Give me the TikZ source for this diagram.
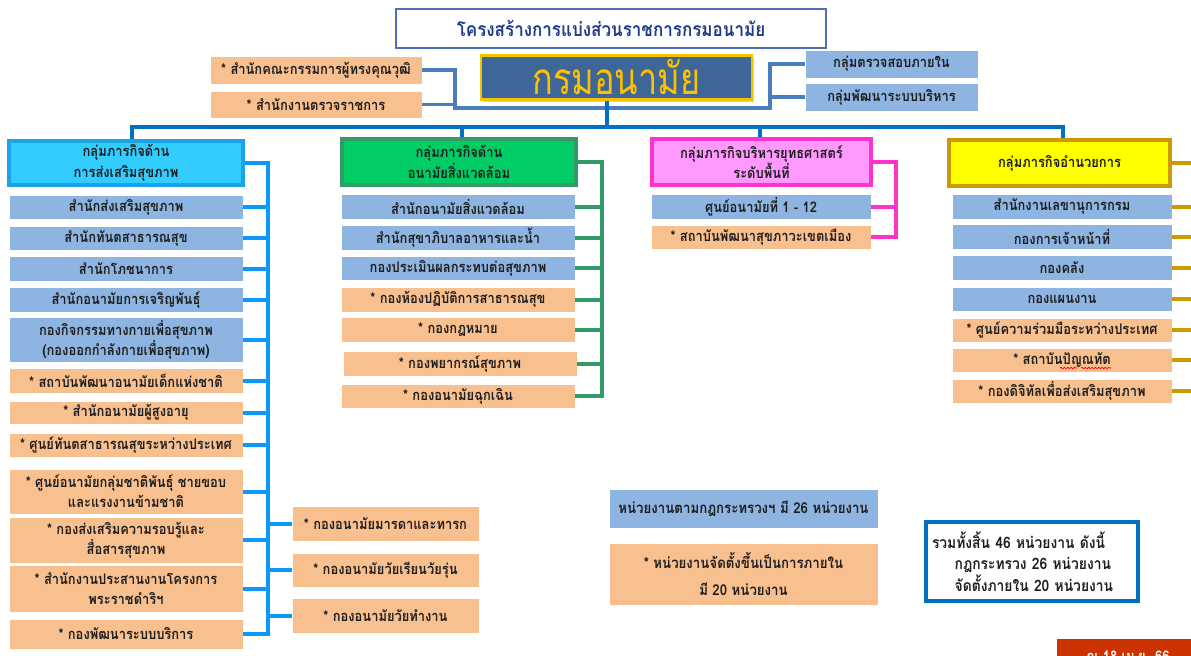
\documentclass[tikz,border=0pt]{standalone}
\usepackage{fontspec}
\newfontfamily\thaifont[Script=Thai,FakeStretch=0.88]{Loma}
\newfontfamily\thaibig[Script=Thai,FakeStretch=0.78]{Loma}
\usetikzlibrary{shadows,decorations.pathmorphing}
\definecolor{peach}{HTML}{F9C08F}
\definecolor{lblue}{HTML}{8EB4E2}
\definecolor{txt}{HTML}{1E1E1E}
\definecolor{cyanf}{HTML}{33CCFF}
\definecolor{cyand}{HTML}{1AA3E8}
\definecolor{lline}{HTML}{0A99FA}
\definecolor{greenf}{HTML}{00CC66}
\definecolor{greend}{HTML}{339966}
\definecolor{pinkf}{HTML}{FF99FF}
\definecolor{pinkd}{HTML}{FF33CC}
\definecolor{yelf}{HTML}{FFFF00}
\definecolor{yeld}{HTML}{CC9900}
\definecolor{busc}{HTML}{0070C0}
\definecolor{topc}{HTML}{4A7EBB}
\definecolor{mainf}{HTML}{3E6696}
\definecolor{maind}{HTML}{F2C400}
\definecolor{maint}{HTML}{FFC000}
\definecolor{titlet}{HTML}{1F3A8A}
\definecolor{titled}{HTML}{4F6FB8}
\definecolor{redbox}{HTML}{CC3300}
\begin{document}
\begin{tikzpicture}[x=0.75pt,y=-0.75pt,
  box/.style={rectangle, inner sep=1pt, align=center, text=txt,
    font=\thaifont\bfseries\fontsize{11}{15}\selectfont, draw=white, line width=0.6pt},
  pbox/.style={box, fill=peach},
  bbox/.style={box, fill=lblue},
  sz/.style 2 args={minimum width=#1*0.75pt, minimum height=#2*0.75pt},
  hdr/.style={box, line width=2.4pt, font=\thaifont\bfseries\fontsize{11}{15.5}\selectfont},
  lconn/.style={draw=lline, line width=3pt},
  gconn/.style={draw=greend, line width=3pt},
  pconn/.style={draw=pinkd, line width=3pt},
  yconn/.style={draw=yeld, line width=3pt},
  tconn/.style={draw=topc, line width=2.4pt},
  bconn/.style={draw=busc, line width=2.6pt}
]
\useasboundingbox (0,0) rectangle (1191,656);
\clip (0,0) rectangle (1191,656);
\fill[white] (0,0) rectangle (1191,656);

% title
\node[rectangle, draw=titled, line width=0.8pt, fill=white, sz={430}{39},
  text=titlet, font=\thaifont\bfseries\fontsize{14.5}{17}\selectfont] (title) at (611,28.5)
  {โครงสร้างการแบ่งส่วนราชการกรมอนามัย};

% main
\node[rectangle, fill=mainf, draw=maind, line width=2.2pt, sz={271}{43},
  drop shadow={opacity=0.35, shadow xshift=1.5pt, shadow yshift=-1.5pt},
  text=maint, font=\thaibig\fontsize{33}{34}\selectfont] (main) at (616.5,77.5) {กรมอนามัย};

\node[pbox, sz={212}{28}] (tl1) at (316,70) {* สำนักคณะกรรมการผู้ทรงคุณวุฒิ};
\node[pbox, sz={212}{27}] (tl2) at (316,104.5) {* สำนักงานตรวจราชการ};
\node[bbox, sz={173}{28}] (tr1) at (891.5,64) {กลุ่มตรวจสอบภายใน};
\node[bbox, sz={173}{28}] (tr2) at (891.5,97) {กลุ่มพัฒนาระบบบริหาร};

\coordinate (lj) at (455,108);
\coordinate (rj) at (770,108);
\coordinate (mid) at (607,127);
\coordinate (busL) at (132,127);
\coordinate (busR) at (1063,127);
\coordinate (dG) at (462,127);
\coordinate (dP) at (760,127);

% headers
\node[hdr, fill=cyanf, draw=cyand, sz={234}{44}] (h1) at (126,163) {กลุ่มภารกิจด้าน\\การส่งเสริมสุขภาพ};
\node[hdr, fill=greenf, draw=greend, line width=3pt, sz={234}{46}] (h2) at (459,162) {กลุ่มภารกิจด้าน\\อนามัยสิ่งแวดล้อม};
\node[hdr, fill=pinkf, draw=pinkd, sz={219}{46}] (h3) at (761.5,162) {กลุ่มภารกิจบริหารยุทธศาสตร์\\ระดับพื้นที่};
\node[hdr, fill=yelf, draw=yeld, line width=3pt, sz={221}{46}] (h4) at (1059.5,163) {กลุ่มภารกิจอำนวยการ};

% top connectors
\draw[tconn] (tl1.east) -| (lj) -- (rj) |- (tr1.west);
\draw[tconn] (tl2.east) -| (lj);
\draw[tconn] (tr2.west) -| (rj);
\draw[bconn] (mid) -- (mid |- main.south);
\draw[bconn] (busL |- h1.north) -- (busL) -- (busR) -- (busR |- h4.north);
\draw[bconn] (dG) -- (dG |- h2.north);
\draw[bconn] (dP) -- (dP |- h3.north);

% left column
\node[bbox, sz={234}{24}] (l1) at (126,207) {สำนักส่งเสริมสุขภาพ};
\node[bbox, sz={234}{24}] (l2) at (126,238) {สำนักทันตสาธารณสุข};
\node[bbox, sz={234}{25}] (l3) at (126,268.5) {สำนักโภชนาการ};
\node[bbox, sz={234}{25}] (l4) at (126,299.5) {สำนักอนามัยการเจริญพันธุ์};
\node[bbox, sz={234}{45}] (l5) at (126,339.5) {กองกิจกรรมทางกายเพื่อสุขภาพ\\(กองออกกำลังกายเพื่อสุขภาพ)};
\node[pbox, sz={234}{25}] (l6) at (126,380.5) {* สถาบันพัฒนาอนามัยเด็กแห่งชาติ};
\node[pbox, sz={234}{23}] (l7) at (126,412.5) {* สำนักอนามัยผู้สูงอายุ};
\node[pbox, sz={234}{24}] (l8) at (126,445) {* ศูนย์ทันตสาธารณสุขระหว่างประเทศ};
\node[pbox, sz={234}{45}] (l9) at (126,491.5) {* ศูนย์อนามัยกลุ่มชาติพันธุ์ ชายขอบ\\และแรงงานข้ามชาติ};
\node[pbox, sz={234}{46}] (l10) at (126,540) {* กองส่งเสริมความรอบรู้และ\\สื่อสารสุขภาพ};
\node[pbox, sz={234}{47}] (l11) at (126,588.5) {* สำนักงานประสานงานโครงการ\\พระราชดำริฯ};
\node[pbox, sz={234}{30}] (l12) at (126,634) {* กองพัฒนาระบบบริการ};
\node[pbox, sz={187}{35}] (r1) at (385.5,523.5) {* กองอนามัยมารดาและทารก};
\node[pbox, sz={187}{34}] (r2) at (385.5,570) {* กองอนามัยวัยเรียนวัยรุ่น};
\node[pbox, sz={187}{35}] (r3) at (385.5,615.5) {* กองอนามัยวัยทำงาน};
\coordinate (lv) at (268,0);
\draw[lconn] (h1.east) -| (lv |- l12.east) -- (l12.east);
\foreach \n in {l1,l2,l3,l4,l5,l6,l7,l8,l9,l10,l11}
  \draw[lconn] (\n.east) -- (\n.east -| lv);
\foreach \n in {r1,r2,r3}
  \draw[lconn] (\n.west) -- (\n.west -| lv);

% middle column
\node[bbox, sz={234}{25}] (m1) at (458,206.5) {สำนักอนามัยสิ่งแวดล้อม};
\node[bbox, sz={234}{25}] (m2) at (458,237.5) {สำนักสุขาภิบาลอาหารและน้ำ};
\node[bbox, sz={234}{24}] (m3) at (458,268) {กองประเมินผลกระทบต่อสุขภาพ};
\node[pbox, sz={234}{25}] (m4) at (458,299.5) {* กองห้องปฏิบัติการสาธารณสุข};
\node[pbox, sz={234}{25}] (m5) at (458,329.5) {* กองกฎหมาย};
\node[pbox, sz={234}{25}] (m6) at (460,363.5) {* กองพยากรณ์สุขภาพ};
\node[pbox, sz={234}{24}] (m7) at (458,396) {* กองอนามัยฉุกเฉิน};
\coordinate (mv) at (602,0);
\draw[gconn] (h2.east) -| (mv |- m7.east) -- (m7.east);
\foreach \n in {m1,m2,m3,m4,m5,m6}
  \draw[gconn] (\n.east) -- (\n.east -| mv);

% pink column
\node[bbox, sz={220}{25}] (p1) at (761,206.5) {ศูนย์อนามัยที่ 1 - 12};
\node[pbox, sz={220}{24}] (p2) at (761,237) {* สถาบันพัฒนาสุขภาวะเขตเมือง};
\coordinate (pv) at (896,0);
\draw[pconn] (h3.east) -| (pv |- p2.east) -- (p2.east);
\draw[pconn] (p1.east) -- (p1.east -| pv);

% yellow column
\node[bbox, sz={220}{25}] (y1) at (1062,206.5) {สำนักงานเลขานุการกรม};
\node[bbox, sz={220}{25}] (y2) at (1062,236.5) {กองการเจ้าหน้าที่};
\node[bbox, sz={220}{25}] (y3) at (1062,267.5) {กองคลัง};
\node[bbox, sz={220}{24}] (y4) at (1062,299) {กองแผนงาน};
\node[pbox, sz={220}{24}] (y5) at (1062,330) {* ศูนย์ความร่วมมือระหว่างประเทศ};
\node[pbox, sz={220}{24}] (y6) at (1062,360) {* สถาบันปัญณทัต};
\node[pbox, sz={220}{24}] (y7) at (1062,391) {* กองดิจิทัลเพื่อส่งเสริมสุขภาพ};
\coordinate (edgeR) at (1195,0);
\foreach \n in {h4,y1,y2,y3,y4,y5,y6,y7}
  \draw[yconn] (\n.east) -- (\n.east -| edgeR);
\draw[red, line width=0.5pt, decorate, decoration={snake, amplitude=0.6pt, segment length=2.5pt}]
  (1060,368) -- (1077,368);
\draw[red, line width=0.5pt, decorate, decoration={snake, amplitude=0.6pt, segment length=2.5pt}]
  (1081,368) -- (1111,368);

% bottom notes
\node[bbox, sz={269}{39}, font=\thaifont\bfseries\fontsize{11.3}{15}\selectfont] (b1) at (743.5,508.5) {หน่วยงานตามกฎกระทรวงฯ มี 26 หน่วยงาน};
\node[pbox, sz={269}{62}, font=\thaifont\bfseries\fontsize{11.3}{20}\selectfont] (b2) at (743.5,574)
  {* หน่วยงานจัดตั้งขึ้นเป็นการภายใน\\มี 20 หน่วยงาน};
\node[rectangle, draw=busc, line width=2.4pt, fill=white, sz={212}{79}, align=left,
  text width=200*0.75pt, inner xsep=2pt, text=txt,
  font=\thaifont\bfseries\fontsize{11.8}{16}\selectfont] (sum) at (1032,561.5)
  {รวมทั้งสิ้น 46 หน่วยงาน ดังนี้\\\hspace*{17pt}กฎกระทรวง 26 หน่วยงาน\\\hspace*{17pt}จัดตั้งภายใน 20 หน่วยงาน};
\node[rectangle, fill=redbox, sz={142}{34}, text=white,
  font=\thaifont\bfseries\fontsize{11}{13}\selectfont] (date) at (1128,656) {ณ 18 เม.ย. 66};
\end{tikzpicture}
\end{document}
